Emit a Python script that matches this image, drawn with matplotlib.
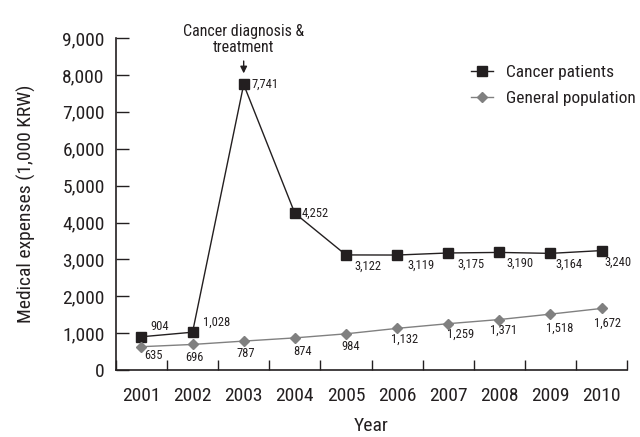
import matplotlib
matplotlib.use("Agg")
import matplotlib.pyplot as plt
from matplotlib import font_manager

names = {f.name for f in font_manager.fontManager.ttflist}
fam = [n for n in ['Liberation Sans Narrow', 'Roboto Condensed', 'Liberation Sans'] if n in names] + ['DejaVu Sans']
plt.rcParams['font.family'] = fam

years = ['2001', '2002', '2003', '2004', '2005', '2006', '2007', '2008', '2009', '2010']
cancer = [904, 1028, 7741, 4252, 3122, 3119, 3175, 3190, 3164, 3240]
general = [635, 696, 787, 874, 984, 1132, 1259, 1371, 1518, 1672]
yticks = [0, 1000, 2000, 3000, 4000, 5000, 6000, 7000, 8000, 9000]
ytick_labels = ['0', '1,000', '2,000', '3,000', '4,000', '5,000', '6,000', '7,000', '8,000', '9,000']

# label offsets in pixels (dx, dy; dy positive = downward)
cancer_off = [(18, -10), (24, -10), (8, 0), (7, 0), (22, 11), (24, 10), (23, 11), (21, 11), (19, 11), (16, 12)]
cancer_ha = ['center', 'center', 'left', 'left', 'center', 'center', 'center', 'center', 'center', 'center']
general_off = [(12, 9), (2, 13), (2, 12), (8, 14), (5, 13), (7, 11), (12, 11), (4.5, 11), (9, 14), (6, 15)]

fig = plt.figure(figsize=(6.4, 4.37), dpi=100)
ax = fig.add_axes([0.181, 0.153, 0.799, 0.760])
x = list(range(len(years)))
dark = '#231f20'
grey = '#808080'
ax.plot(x, cancer, color=dark, lw=1.0, marker='s', ms=6.5, mfc=dark, mec=dark, label='Cancer patients')
ax.plot(x, general, color=grey, lw=1.0, marker='D', ms=5, mfc=grey, mec=grey, label='General population')

px = 72 / 100
for i, v in enumerate(cancer):
    dx, dy = cancer_off[i]
    ax.annotate(f'{v:,}', (i, v), xytext=(dx * px, -dy * px), textcoords='offset points',
                ha=cancer_ha[i], va='center', fontsize=9, color=dark)
for i, v in enumerate(general):
    dx, dy = general_off[i]
    ax.annotate(f'{v:,}', (i, v), xytext=(dx * px, -dy * px), textcoords='offset points',
                ha='center', va='center', fontsize=9, color=dark)

ax.annotate('Cancer diagnosis &\ntreatment', xy=(2, 7741), xytext=(0, 29 * px),
            textcoords='offset points', ha='center', va='bottom', fontsize=11.5,
            color=dark, linespacing=1.15,
            arrowprops=dict(arrowstyle='-|>', color=dark, lw=1.0, shrinkA=2, shrinkB=8,
                            mutation_scale=10))

ax.set_xlim(-0.5, len(years) - 0.5)
ax.set_ylim(0, 9000)
ax.set_yticks(yticks)
ax.set_yticklabels(ytick_labels)
ax.set_xticks(x)
ax.set_xticklabels(years)
ax.set_xticks([i - 0.5 for i in range(len(years) + 1)], minor=True)
ax.tick_params(axis='x', which='major', length=0, pad=12, labelsize=14, colors=dark)
ax.tick_params(axis='x', which='minor', direction='in', length=7, width=1, color=dark)
ax.tick_params(axis='y', direction='in', length=9, width=1, pad=8, labelsize=14, colors=dark)
for s in ['top', 'right']:
    ax.spines[s].set_visible(False)
for s in ['left', 'bottom']:
    ax.spines[s].set_color(dark)
    ax.spines[s].set_linewidth(1.2)

ax.set_xlabel('Year', fontsize=14, color=dark, labelpad=9)
ax.set_ylabel('Medical expenses (1,000 KRW)', fontsize=14, color=dark, labelpad=19)

leg = ax.legend(loc='upper right', bbox_to_anchor=(1.048, 0.965), frameon=False, fontsize=12.5,
                handlelength=1.3, handletextpad=0.75, labelspacing=0.6)
for t in leg.get_texts():
    t.set_color(dark)

fig.savefig('out.png', dpi=100)
